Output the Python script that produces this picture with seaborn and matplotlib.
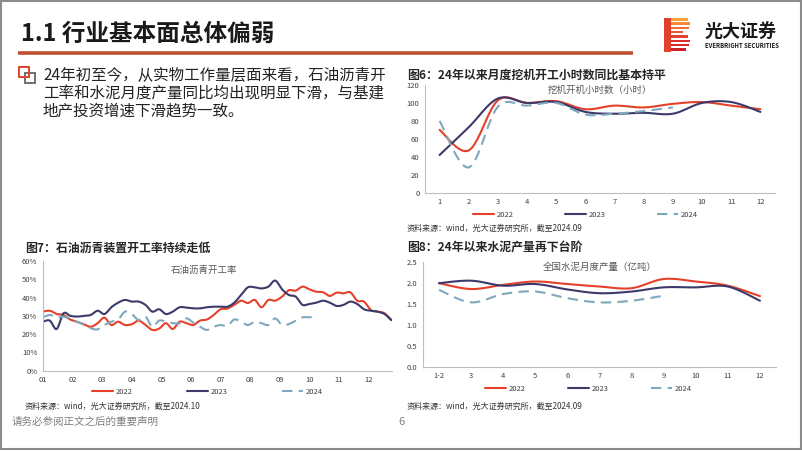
import numpy as np
import pandas as pd
import seaborn as sns
import matplotlib.pyplot as plt
from matplotlib.patches import Rectangle
from matplotlib.lines import Line2D
from matplotlib.ticker import FuncFormatter

# ---------------- data ----------------
years = ['2022', '2023', '2024']

# 图6 挖机开机小时数（小时）
dig_months = list(range(1, 13))
dig_2022 = [70, 47, 103, 100, 102, 93, 97, 95, 99, 101, 97, 93]
dig_2023 = [42, 73, 105, 100, 101, 90, 88, 89, 88, 100, 101, 90]
dig_2024 = [80, 28, 96, 97, 100, 87, 88, 91, 95]

# 图7 石油沥青开工率 (%), weekly
asp_2022 = [32.3, 32.8, 31.0, 30.5, 28.0, 26.8, 25.4, 24.0, 26.0, 29.0, 25.0, 26.8, 25.0,
            25.4, 27.4, 25.0, 22.3, 23.0, 26.0, 22.8, 26.8, 26.0, 25.0, 27.4, 28.0, 30.5,
            33.6, 34.0, 36.0, 38.3, 37.0, 38.7, 34.7, 38.7, 38.3, 40.5, 44.0, 43.8, 46.0,
            44.5, 43.2, 42.9, 40.9, 42.7, 42.3, 42.9, 38.3, 37.8, 33.2, 32.3, 31.4, 27.7]
asp_2023 = [26.8, 27.4, 22.8, 31.4, 30.0, 29.6, 30.0, 30.5, 32.8, 31.0, 34.7, 37.2, 38.7,
            37.8, 37.8, 36.0, 32.3, 33.6, 31.0, 32.3, 34.7, 34.5, 34.1, 34.1, 34.7, 35.0,
            35.0, 35.0, 37.2, 41.4, 45.6, 45.6, 45.0, 46.0, 49.3, 44.5, 41.4, 40.5, 36.0,
            36.5, 37.2, 38.3, 37.2, 35.4, 36.0, 37.8, 36.5, 33.6, 32.8, 32.3, 31.0, 27.7]
asp_2024 = [29.2, 30.5, 29.2, 29.6, 28.0, 26.8, 25.0, 23.2, 22.6, 25.0, 26.8, 28.0, 32.3,
            31.0, 27.7, 29.6, 24.0, 27.4, 26.8, 26.0, 26.0, 28.6, 26.3, 24.0, 22.3, 24.0,
            25.0, 24.5, 28.0, 26.8, 25.0, 26.8, 26.0, 25.0, 28.6, 25.0, 25.5, 27.4, 29.2,
            29.2, 29.6]
asp_month_labels = ['01', '02', '03', '04', '05', '06', '07', '08', '09', '10', '11', '12']

# 图8 全国水泥月度产量（亿吨）
cem_labels = ['1-2', '3', '4', '5', '6', '7', '8', '9', '10', '11', '12']
cem_2022 = [2.00, 1.86, 1.96, 2.04, 1.98, 1.92, 1.88, 2.10, 2.04, 1.94, 1.69]
cem_2023 = [2.00, 2.06, 1.94, 1.98, 1.85, 1.76, 1.80, 1.90, 1.90, 1.92, 1.58]
cem_2024 = [1.84, 1.54, 1.74, 1.80, 1.64, 1.54, 1.58, 1.70]

colors = {'2022': '#E5412A', '2023': '#3B3A6B', '2024': '#7FA8BE'}
dash24 = (0, (5, 3))

W, H = 802, 451

sns.set_style('white')
plt.rcParams['font.family'] = ['Noto Sans CJK SC', 'DejaVu Sans']
plt.rcParams['axes.unicode_minus'] = False


def smooth(x, y, n=10):
    # Catmull-Rom style smoothing, like the smoothed lines in the source chart
    x = np.asarray(x, float)
    y = np.asarray(y, float)
    px = np.r_[x[0], x, x[-1]]
    py = np.r_[y[0], y, y[-1]]
    t = np.linspace(0, 1, n, endpoint=False)
    xs, ys = [], []
    for i in range(1, len(x)):
        for p, out in ((px, xs), (py, ys)):
            p0, p1, p2, p3 = p[i - 1], p[i], p[i + 1], p[i + 2]
            out.extend(0.5 * (2 * p1 + (-p0 + p2) * t + (2 * p0 - 5 * p1 + 4 * p2 - p3) * t ** 2
                              + (-p0 + 3 * p1 - 3 * p2 + p3) * t ** 3))
    xs.append(x[-1])
    ys.append(y[-1])
    return pd.DataFrame({'x': xs, 'y': ys})


def rect(x0, y0, x1, y1):
    return [x0 / W, 1 - y1 / H, (x1 - x0) / W, (y1 - y0) / H]


def style_ax(ax):
    for s in ['top', 'right']:
        ax.spines[s].set_visible(False)
    for s in ['left', 'bottom']:
        ax.spines[s].set_color('#BFBFBF')
        ax.spines[s].set_linewidth(0.8)
    ax.tick_params(axis='both', labelsize=5.5, colors='#BFBFBF', labelcolor='#404040',
                   length=2, width=0.6, pad=2)
    ax.tick_params(axis='x', which='major', length=0, pad=4)
    ax.tick_params(axis='x', which='minor', length=2, width=0.6, colors='#BFBFBF')
    ax.set_xlabel('')
    ax.set_ylabel('')
    ax.grid(False)


def draw_series(ax, xs, series):
    for yr, vals in zip(years, series):
        df = smooth(xs[:len(vals)], vals)
        sns.lineplot(data=df, x='x', y='y', ax=ax, sort=False, estimator=None,
                     color=colors[yr], linewidth=1.5,
                     linestyle=dash24 if yr == '2024' else '-')


def add_legend(x0, y, step):
    for i, yr in enumerate(years):
        h = Line2D([], [], color=colors[yr], linewidth=1.5,
                   linestyle=dash24 if yr == '2024' else '-')
        fig.legend([h], [yr], loc='center left',
                   bbox_to_anchor=((x0 + i * step) / W, 1 - y / H),
                   frameon=False, fontsize=5.5, handlelength=2.8, handletextpad=0.3,
                   borderpad=0, borderaxespad=0, labelcolor='#404040')


fig = plt.figure(figsize=(W / 100, H / 100), dpi=100)

# ---------------- slide background ----------------
bg = fig.add_axes([0, 0, 1, 1])
bg.set_xlim(0, W)
bg.set_ylim(H, 0)
bg.axis('off')
bg.add_patch(Rectangle((1, 1), W - 2.5, H - 3, fill=False, edgecolor='#8C8C8C', linewidth=1.5))
bg.text(21, 34, '1.1 行业基本面总体偏弱', fontsize=17, fontweight='bold', color='#1A1A1A', va='center')
bg.plot([18, 633], [53, 53], color='#C0502F', linewidth=2.6, solid_capstyle='butt')

# logo
grad = ['#F6A13A', '#F28A36', '#EE7033', '#E95830', '#E3422E', '#DC302D', '#D5262C', '#CC1F2A']
bg.add_patch(Rectangle((664, 18), 7, 34, color='#E2402E', linewidth=0))
for i, c in enumerate(grad):
    yy = 18 + i * 4.3
    wdt = [24, 26, 25, 19, 24, 26, 25, 22][i]
    bg.add_patch(Rectangle((671, yy), wdt - 7, 2.6, color=c, linewidth=0))
bg.text(705, 31, '光大证券', fontsize=13, fontweight='bold', color='#1A1A1A', va='center')
bg.text(705, 46, 'EVERBRIGHT SECURITIES', fontsize=4.3, fontweight='bold', color='#1A1A1A', va='center')

# bullet
bg.add_patch(Rectangle((25, 73), 10, 10, fill=False, edgecolor='#707070', linewidth=1.4))
bg.add_patch(Rectangle((19, 67), 10, 10, fill=False, edgecolor='#D9452B', linewidth=1.4))
para = ['24年初至今，从实物工作量层面来看，石油沥青开',
        '工率和水泥月度产量同比均出现明显下滑，与基建',
        '地产投资增速下滑趋势一致。']
for i, line in enumerate(para):
    bg.text(43, 75 + i * 18, line, fontsize=11.2, color='#222222', va='center')

# chart titles / sources
bg.text(407, 75, '图6：24年以来月度挖机开工小时数同比基本持平', fontsize=8.6, fontweight='bold', va='center')
bg.text(407, 228, '资料来源：wind，光大证券研究所，截至2024.09', fontsize=5.8, color='#333333', va='center')
bg.text(25, 248, '图7：石油沥青装置开工率持续走低', fontsize=8.6, fontweight='bold', va='center')
bg.text(25, 406, '资料来源：wind，光大证券研究所，截至2024.10', fontsize=5.8, color='#333333', va='center')
bg.text(407, 248, '图8：24年以来水泥产量再下台阶', fontsize=8.6, fontweight='bold', va='center')
bg.text(407, 406, '资料来源：wind，光大证券研究所，截至2024.09', fontsize=5.8, color='#333333', va='center')
bg.text(12, 422, '请务必参阅正文之后的重要声明', fontsize=7.6, color='#7F7F7F', va='center')
bg.text(398, 422, '6', fontsize=8, color='#7F7F7F', va='center')

# ---------------- 图6 ----------------
ax6 = fig.add_axes(rect(425, 85, 775, 192.7))
draw_series(ax6, dig_months, [dig_2022, dig_2023, dig_2024])
ax6.set_xlim(0.5, 12.5)
ax6.set_ylim(0, 120)
ax6.set_xticks(dig_months)
ax6.set_xticks(np.arange(0.5, 13, 1), minor=True)
ax6.set_yticks(range(0, 121, 20))
style_ax(ax6)
ax6.text(0.5, 0.95, '挖机开机小时数（小时）', transform=ax6.transAxes, ha='center', va='center',
         fontsize=6.8, color='#595959')
add_legend(473, 215, 92)

# ---------------- 图7 ----------------
ax7 = fig.add_axes(rect(43, 261, 392, 370.7))
draw_series(ax7, list(range(52)), [asp_2022, asp_2023, asp_2024])
ax7.set_xlim(0, 51.1)
ax7.set_ylim(0, 60)
ax7.set_xticks([m * 52 / 12 for m in range(12)])
ax7.set_xticklabels(asp_month_labels)
ax7.set_xticks([(m + 0.5) * 52 / 12 for m in range(12)], minor=True)
ax7.set_yticks(range(0, 61, 10))
ax7.yaxis.set_major_formatter(FuncFormatter(lambda v, p: f'{v:.0f}%'))
style_ax(ax7)
ax7.text(0.46, 0.92, '石油沥青开工率', transform=ax7.transAxes, ha='center', va='center',
         fontsize=6.8, color='#595959')
add_legend(92, 392, 95)

# ---------------- 图8 ----------------
ax8 = fig.add_axes(rect(423, 262.3, 776, 366.7))
draw_series(ax8, list(range(len(cem_labels))), [cem_2022, cem_2023, cem_2024])
ax8.set_xlim(-0.5, 10.5)
ax8.set_ylim(0, 2.5)
ax8.set_xticks(range(len(cem_labels)))
ax8.set_xticklabels(cem_labels)
ax8.set_xticks(np.arange(-0.5, 11, 1), minor=True)
ax8.set_yticks(np.arange(0, 2.6, 0.5))
ax8.yaxis.set_major_formatter(FuncFormatter(lambda v, p: f'{v:.1f}'))
style_ax(ax8)
ax8.text(0.5, 0.95, '全国水泥月度产量（亿吨）', transform=ax8.transAxes, ha='center', va='center',
         fontsize=6.8, color='#595959')
add_legend(485, 389, 83)

fig.savefig('out.png', dpi=100)
